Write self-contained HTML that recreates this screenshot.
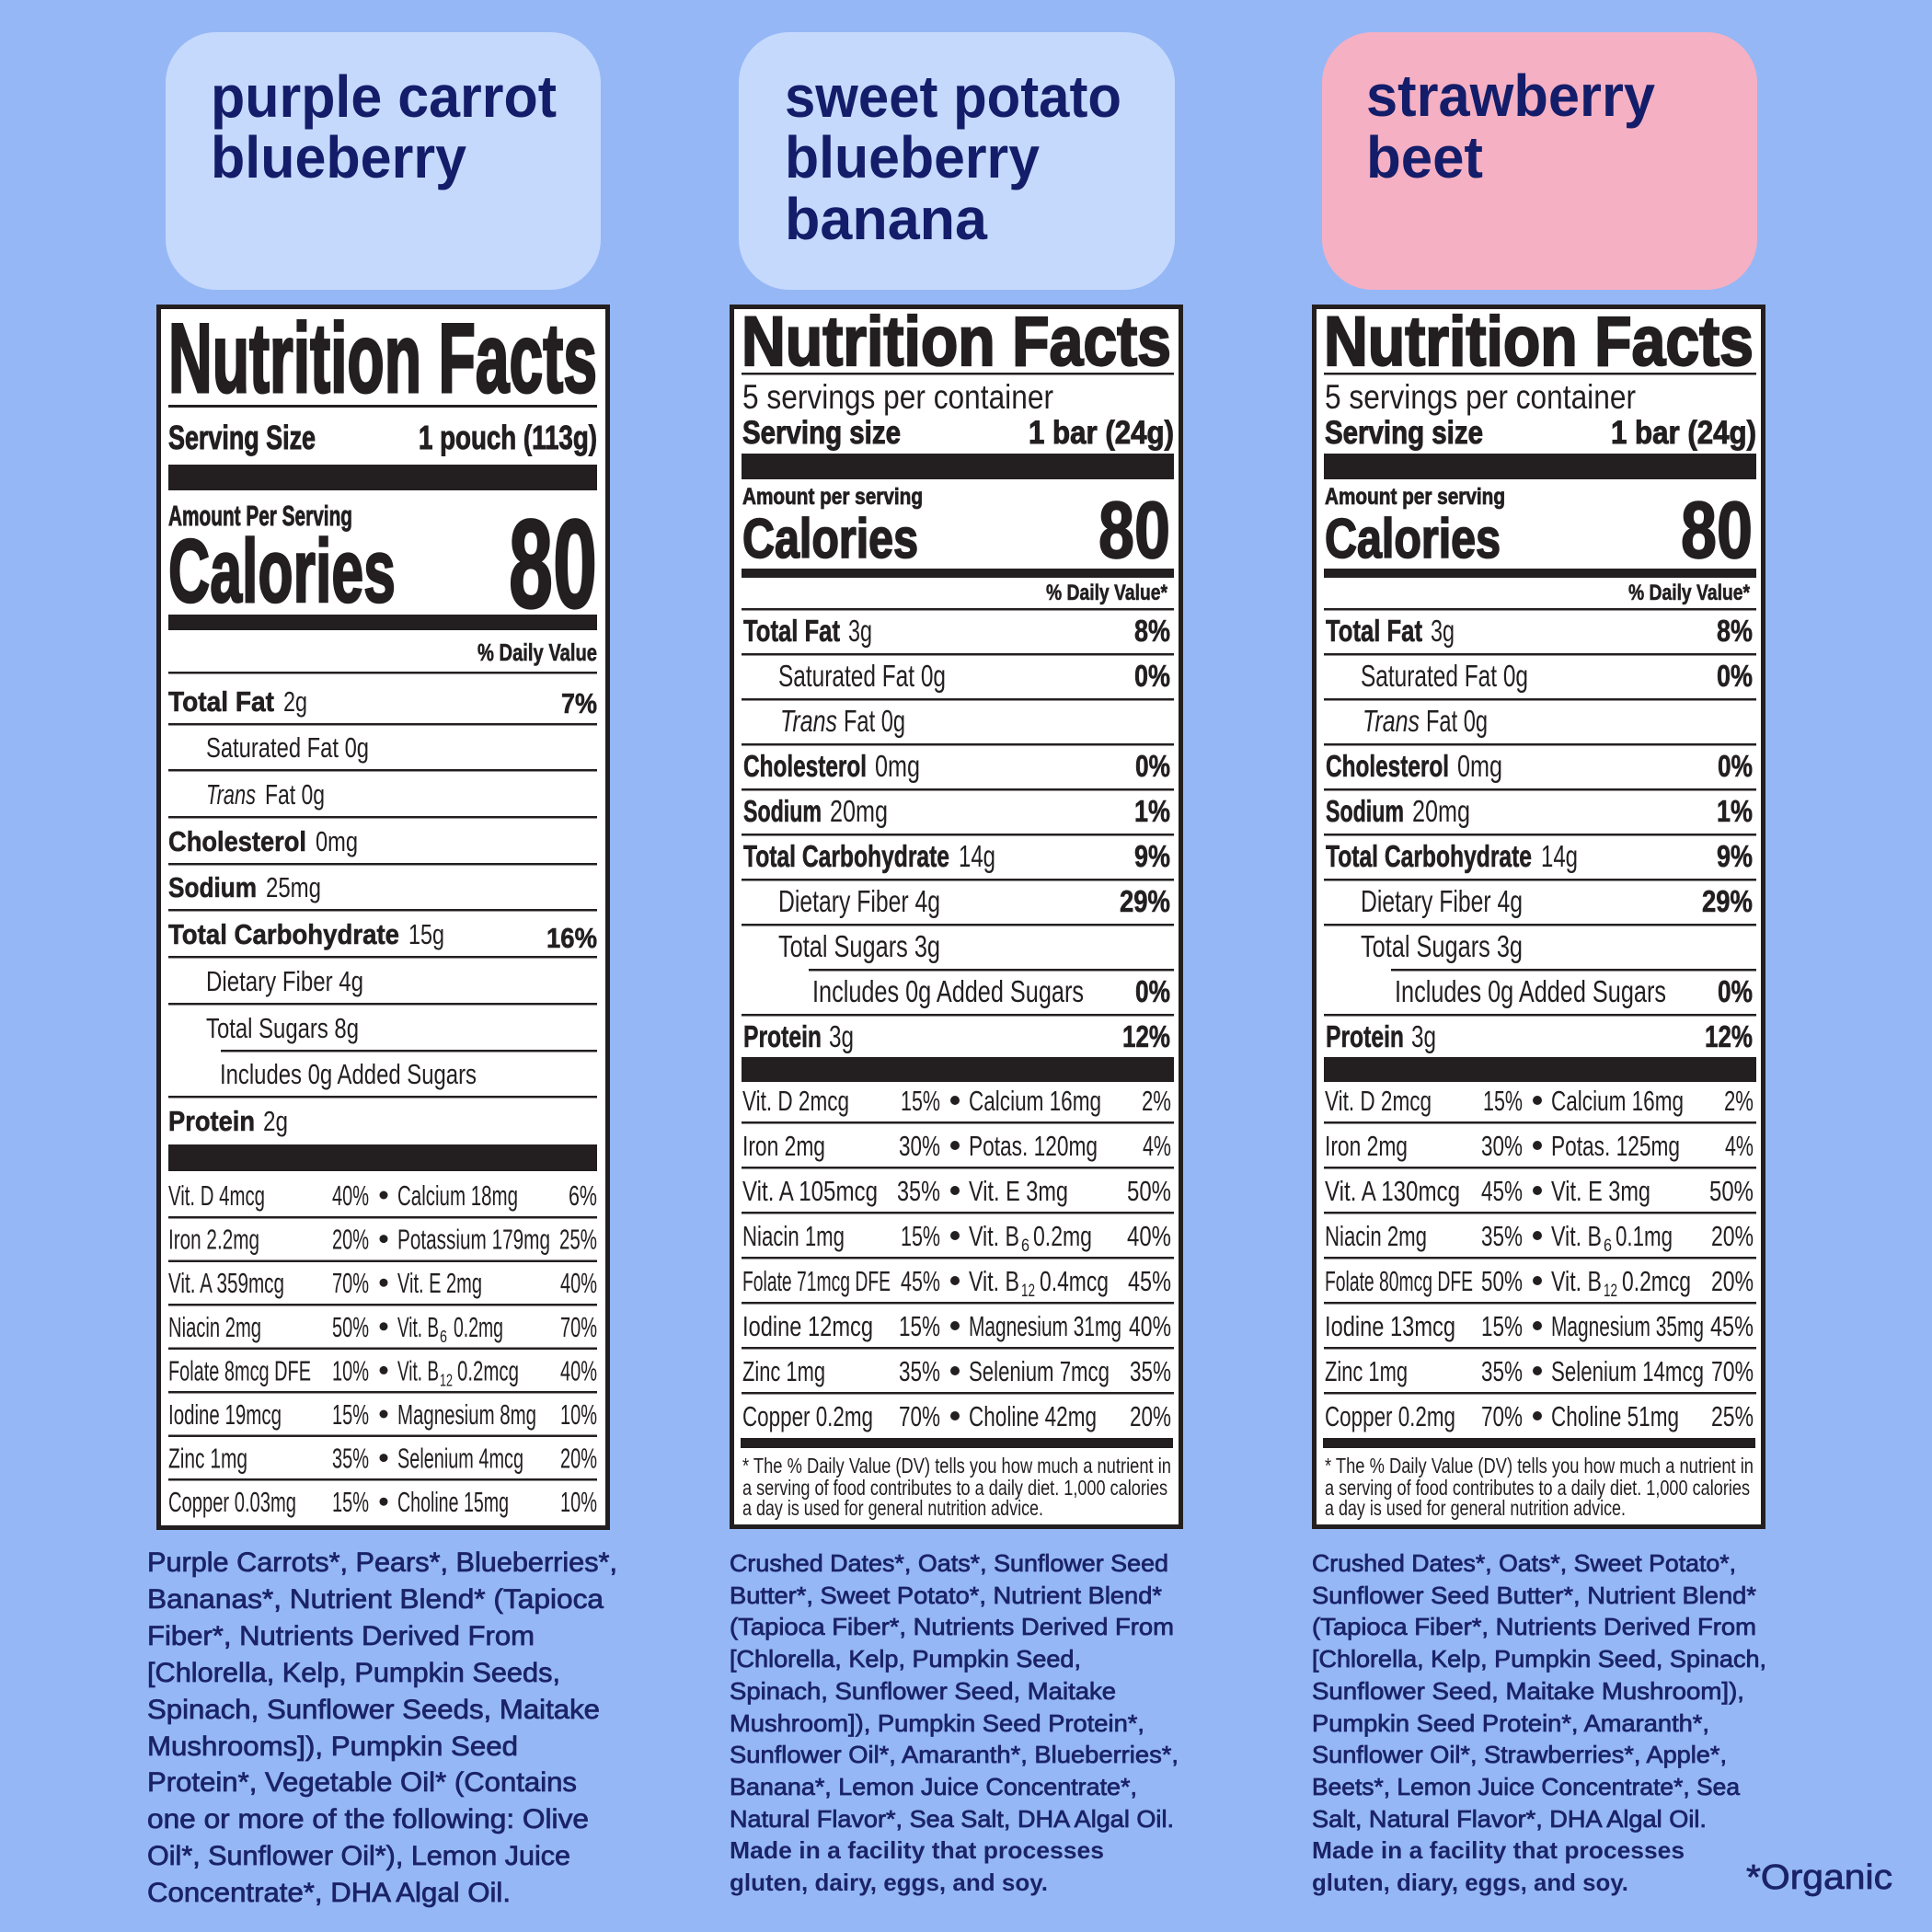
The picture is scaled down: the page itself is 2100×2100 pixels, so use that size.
<!DOCTYPE html>
<html><head><meta charset="utf-8"><style>
html,body{margin:0;padding:0;background:#95b7f5;}
svg{display:block;}
.B{font-family:"Liberation Sans",Arial,sans-serif;font-weight:700;fill:#231f20;stroke:#231f20;stroke-width:0.6;}
.R{font-family:"Liberation Sans",Arial,sans-serif;font-weight:400;fill:#231f20;}
.I{font-family:"Liberation Sans",Arial,sans-serif;font-weight:400;font-style:italic;fill:#231f20;}
.T{font-family:"Liberation Sans",Arial,sans-serif;font-weight:700;fill:#141d69;}
.G{font-family:"Liberation Sans",Arial,sans-serif;font-weight:400;fill:#1b2367;stroke:#1b2367;stroke-width:0.75;}
.GB{font-family:"Liberation Sans",Arial,sans-serif;font-weight:700;fill:#1b2367;}
</style></head><body>
<svg xmlns="http://www.w3.org/2000/svg" width="2100" height="2100" viewBox="0 0 2100 2100">
<rect x="0" y="0" width="2100" height="2100" fill="#95b7f5"/>

<!-- Pills -->
<rect x="180" y="35" width="473" height="280" rx="55" fill="#c5d9fd"/>
<rect x="803" y="35" width="474" height="280" rx="55" fill="#c5d9fd"/>
<rect x="1437" y="35" width="473" height="280" rx="55" fill="#f5b0c3"/>

<text class="T" x="229" y="127" font-size="64" textLength="376" lengthAdjust="spacingAndGlyphs">purple carrot</text>
<text class="T" x="229" y="193" font-size="64" textLength="278" lengthAdjust="spacingAndGlyphs">blueberry</text>

<text class="T" x="853" y="127" font-size="64" textLength="366" lengthAdjust="spacingAndGlyphs">sweet potato</text>
<text class="T" x="853" y="193" font-size="64" textLength="277" lengthAdjust="spacingAndGlyphs">blueberry</text>
<text class="T" x="853" y="260" font-size="64" textLength="220" lengthAdjust="spacingAndGlyphs">banana</text>

<text class="T" x="1485" y="126" font-size="64" textLength="314" lengthAdjust="spacingAndGlyphs">strawberry</text>
<text class="T" x="1485" y="193" font-size="64" textLength="127" lengthAdjust="spacingAndGlyphs">beet</text>

<!-- ================= LABEL 1 ================= -->
<rect x="172.5" y="333.5" width="488" height="1327" fill="#fff" stroke="#231f20" stroke-width="5"/>
<g fill="#231f20">
<text class="B" x="183" y="426" font-size="107" textLength="466" lengthAdjust="spacingAndGlyphs" style="stroke-width:3">Nutrition Facts</text>
<rect x="183" y="440" width="466" height="3"/>
<text class="B" x="183" y="488" font-size="36" textLength="160" lengthAdjust="spacingAndGlyphs" style="stroke-width:1">Serving Size</text>
<text class="B" x="649" y="488" font-size="36" text-anchor="end" textLength="194" lengthAdjust="spacingAndGlyphs" style="stroke-width:1">1 pouch (113g)</text>
<rect x="183" y="505" width="466" height="28"/>
<text class="B" x="183" y="571" font-size="31" textLength="200" lengthAdjust="spacingAndGlyphs" style="stroke-width:0.9">Amount Per Serving</text>
<text class="B" x="183" y="654" font-size="97" textLength="247" lengthAdjust="spacingAndGlyphs" style="stroke-width:2.5">Calories</text>
<text class="B" x="649" y="660" font-size="137" text-anchor="end" textLength="96" lengthAdjust="spacingAndGlyphs" style="stroke-width:2.5">80</text>
<rect x="183" y="668" width="466" height="17"/>
<text class="B" x="649" y="718" font-size="26" text-anchor="end" textLength="130" lengthAdjust="spacingAndGlyphs">% Daily Value</text>
<rect x="183" y="730" width="466" height="2.5"/>

<text class="B" x="183" y="773" font-size="31" textLength="115" lengthAdjust="spacingAndGlyphs">Total Fat</text>
<text class="R" x="308" y="773" font-size="31" textLength="26" lengthAdjust="spacingAndGlyphs">2g</text>
<text class="B" x="649" y="775" font-size="31" text-anchor="end" textLength="39" lengthAdjust="spacingAndGlyphs">7%</text>
<rect x="183" y="786" width="466" height="2.5"/>
<text class="R" x="224" y="823" font-size="31" textLength="177" lengthAdjust="spacingAndGlyphs">Saturated Fat 0g</text>
<rect x="183" y="836" width="466" height="2.5"/>
<text class="I" x="224" y="874" font-size="31" textLength="54" lengthAdjust="spacingAndGlyphs">Trans</text>
<text class="R" x="288" y="874" font-size="31" textLength="65" lengthAdjust="spacingAndGlyphs">Fat 0g</text>
<rect x="183" y="887" width="466" height="2.5"/>
<text class="B" x="183" y="925" font-size="31" textLength="150" lengthAdjust="spacingAndGlyphs">Cholesterol</text>
<text class="R" x="343" y="925" font-size="31" textLength="46" lengthAdjust="spacingAndGlyphs">0mg</text>
<rect x="183" y="938" width="466" height="2.5"/>
<text class="B" x="183" y="975" font-size="31" textLength="96" lengthAdjust="spacingAndGlyphs">Sodium</text>
<text class="R" x="289" y="975" font-size="31" textLength="60" lengthAdjust="spacingAndGlyphs">25mg</text>
<rect x="183" y="988" width="466" height="2.5"/>
<text class="B" x="183" y="1026" font-size="31" textLength="251" lengthAdjust="spacingAndGlyphs">Total Carbohydrate</text>
<text class="R" x="444" y="1026" font-size="31" textLength="39" lengthAdjust="spacingAndGlyphs">15g</text>
<text class="B" x="649" y="1030" font-size="31" text-anchor="end" textLength="55" lengthAdjust="spacingAndGlyphs">16%</text>
<rect x="183" y="1039" width="466" height="2.5"/>
<text class="R" x="224" y="1077" font-size="31" textLength="171" lengthAdjust="spacingAndGlyphs">Dietary Fiber 4g</text>
<rect x="183" y="1090" width="466" height="2.5"/>
<text class="R" x="224" y="1128" font-size="31" textLength="166" lengthAdjust="spacingAndGlyphs">Total Sugars 8g</text>
<rect x="240" y="1141" width="409" height="2.5"/>
<text class="R" x="239" y="1178" font-size="31" textLength="279" lengthAdjust="spacingAndGlyphs">Includes 0g Added Sugars</text>
<rect x="183" y="1191" width="466" height="2.5"/>
<text class="B" x="183" y="1229" font-size="31" textLength="94" lengthAdjust="spacingAndGlyphs">Protein</text>
<text class="R" x="286" y="1229" font-size="31" textLength="27" lengthAdjust="spacingAndGlyphs">2g</text>
<rect x="183" y="1244" width="466" height="29"/>

<!-- vit rows label 1 -->
<rect x="183" y="1322" width="466" height="2.5"/>
<rect x="183" y="1369.5" width="466" height="2.5"/>
<rect x="183" y="1417" width="466" height="2.5"/>
<rect x="183" y="1464.5" width="466" height="2.5"/>
<rect x="183" y="1512" width="466" height="2.5"/>
<rect x="183" y="1559.5" width="466" height="2.5"/>
<rect x="183" y="1607" width="466" height="2.5"/>

<circle cx="417" cy="1299" r="4.5"/><circle cx="417" cy="1346.6" r="4.5"/><circle cx="417" cy="1394.2" r="4.5"/><circle cx="417" cy="1441.8" r="4.5"/>
<circle cx="417" cy="1489.4" r="4.5"/><circle cx="417" cy="1537" r="4.5"/><circle cx="417" cy="1584.6" r="4.5"/><circle cx="417" cy="1632.2" r="4.5"/>

<text class="R" x="183" y="1310" font-size="31" textLength="105" lengthAdjust="spacingAndGlyphs">Vit. D 4mcg</text>
<text class="R" x="401" y="1310" font-size="31" text-anchor="end" textLength="40" lengthAdjust="spacingAndGlyphs">40%</text>
<text class="R" x="432" y="1310" font-size="31" textLength="131" lengthAdjust="spacingAndGlyphs">Calcium 18mg</text>
<text class="R" x="649" y="1310" font-size="31" text-anchor="end" textLength="31" lengthAdjust="spacingAndGlyphs">6%</text>

<text class="R" x="183" y="1357.6" font-size="31" textLength="99" lengthAdjust="spacingAndGlyphs">Iron 2.2mg</text>
<text class="R" x="401" y="1357.6" font-size="31" text-anchor="end" textLength="40" lengthAdjust="spacingAndGlyphs">20%</text>
<text class="R" x="432" y="1357.6" font-size="31" textLength="166" lengthAdjust="spacingAndGlyphs">Potassium 179mg</text>
<text class="R" x="649" y="1357.6" font-size="31" text-anchor="end" textLength="41" lengthAdjust="spacingAndGlyphs">25%</text>

<text class="R" x="183" y="1405.2" font-size="31" textLength="126" lengthAdjust="spacingAndGlyphs">Vit. A 359mcg</text>
<text class="R" x="401" y="1405.2" font-size="31" text-anchor="end" textLength="40" lengthAdjust="spacingAndGlyphs">70%</text>
<text class="R" x="432" y="1405.2" font-size="31" textLength="92" lengthAdjust="spacingAndGlyphs">Vit. E 2mg</text>
<text class="R" x="649" y="1405.2" font-size="31" text-anchor="end" textLength="40" lengthAdjust="spacingAndGlyphs">40%</text>

<text class="R" x="183" y="1452.8" font-size="31" textLength="101" lengthAdjust="spacingAndGlyphs">Niacin 2mg</text>
<text class="R" x="401" y="1452.8" font-size="31" text-anchor="end" textLength="40" lengthAdjust="spacingAndGlyphs">50%</text>
<text class="R" x="432" y="1452.8" font-size="31" textLength="45" lengthAdjust="spacingAndGlyphs">Vit. B</text>
<text class="R" x="478" y="1458.8" font-size="18" textLength="8" lengthAdjust="spacingAndGlyphs">6</text>
<text class="R" x="493" y="1452.8" font-size="31" textLength="54" lengthAdjust="spacingAndGlyphs">0.2mg</text>
<text class="R" x="649" y="1452.8" font-size="31" text-anchor="end" textLength="40" lengthAdjust="spacingAndGlyphs">70%</text>

<text class="R" x="183" y="1500.4" font-size="31" textLength="155" lengthAdjust="spacingAndGlyphs">Folate 8mcg DFE</text>
<text class="R" x="401" y="1500.4" font-size="31" text-anchor="end" textLength="40" lengthAdjust="spacingAndGlyphs">10%</text>
<text class="R" x="432" y="1500.4" font-size="31" textLength="45" lengthAdjust="spacingAndGlyphs">Vit. B</text>
<text class="R" x="478" y="1506.4" font-size="18" textLength="14" lengthAdjust="spacingAndGlyphs">12</text>
<text class="R" x="497" y="1500.4" font-size="31" textLength="67" lengthAdjust="spacingAndGlyphs">0.2mcg</text>
<text class="R" x="649" y="1500.4" font-size="31" text-anchor="end" textLength="40" lengthAdjust="spacingAndGlyphs">40%</text>

<text class="R" x="183" y="1548" font-size="31" textLength="123" lengthAdjust="spacingAndGlyphs">Iodine 19mcg</text>
<text class="R" x="401" y="1548" font-size="31" text-anchor="end" textLength="40" lengthAdjust="spacingAndGlyphs">15%</text>
<text class="R" x="432" y="1548" font-size="31" textLength="151" lengthAdjust="spacingAndGlyphs">Magnesium 8mg</text>
<text class="R" x="649" y="1548" font-size="31" text-anchor="end" textLength="40" lengthAdjust="spacingAndGlyphs">10%</text>

<text class="R" x="183" y="1595.6" font-size="31" textLength="86" lengthAdjust="spacingAndGlyphs">Zinc 1mg</text>
<text class="R" x="401" y="1595.6" font-size="31" text-anchor="end" textLength="40" lengthAdjust="spacingAndGlyphs">35%</text>
<text class="R" x="432" y="1595.6" font-size="31" textLength="137" lengthAdjust="spacingAndGlyphs">Selenium 4mcg</text>
<text class="R" x="649" y="1595.6" font-size="31" text-anchor="end" textLength="40" lengthAdjust="spacingAndGlyphs">20%</text>

<text class="R" x="183" y="1643.2" font-size="31" textLength="139" lengthAdjust="spacingAndGlyphs">Copper 0.03mg</text>
<text class="R" x="401" y="1643.2" font-size="31" text-anchor="end" textLength="40" lengthAdjust="spacingAndGlyphs">15%</text>
<text class="R" x="432" y="1643.2" font-size="31" textLength="121" lengthAdjust="spacingAndGlyphs">Choline 15mg</text>
<text class="R" x="649" y="1643.2" font-size="31" text-anchor="end" textLength="40" lengthAdjust="spacingAndGlyphs">10%</text>
</g>

<!-- ================= LABEL 2 ================= -->
<g fill="#231f20">
<rect x="795.5" y="333.5" width="488" height="1326" fill="#fff" stroke="#231f20" stroke-width="5"/>
<text class="B" x="806" y="397" font-size="76" textLength="467" lengthAdjust="spacingAndGlyphs" style="stroke-width:2.2">Nutrition Facts</text>
<rect x="806" y="405" width="470" height="2.5"/>
<text class="R" x="807" y="444" font-size="37" textLength="338" lengthAdjust="spacingAndGlyphs">5 servings per container</text>
<text class="B" x="807" y="482" font-size="35" textLength="172" lengthAdjust="spacingAndGlyphs" style="stroke-width:1">Serving size</text>
<text class="B" x="1276" y="482" font-size="35" text-anchor="end" textLength="158" lengthAdjust="spacingAndGlyphs" style="stroke-width:1">1 bar (24g)</text>
<rect x="806" y="493" width="470" height="28"/>
<text class="B" x="807" y="548" font-size="25" textLength="196" lengthAdjust="spacingAndGlyphs" style="stroke-width:0.8">Amount per serving</text>
<text class="B" x="807" y="606" font-size="60" textLength="191" lengthAdjust="spacingAndGlyphs" style="stroke-width:1.8">Calories</text>
<text class="B" x="1272" y="606" font-size="87" text-anchor="end" textLength="78" lengthAdjust="spacingAndGlyphs" style="stroke-width:1.8">80</text>
<rect x="806" y="618" width="470" height="10"/>
<text class="B" x="1269" y="652" font-size="24" text-anchor="end" textLength="132" lengthAdjust="spacingAndGlyphs">% Daily Value*</text>
<rect x="806" y="661" width="470" height="2.5"/>

<text class="B" x="808" y="697" font-size="33" textLength="105" lengthAdjust="spacingAndGlyphs">Total Fat</text>
<text class="R" x="922" y="697" font-size="33" textLength="26" lengthAdjust="spacingAndGlyphs">3g</text>
<text class="B" x="1272" y="697" font-size="33" text-anchor="end" textLength="39" lengthAdjust="spacingAndGlyphs">8%</text>
<rect x="806" y="710" width="470" height="2.5"/>
<text class="R" x="846" y="746" font-size="33" textLength="182" lengthAdjust="spacingAndGlyphs">Saturated Fat 0g</text>
<text class="B" x="1272" y="746" font-size="33" text-anchor="end" textLength="39" lengthAdjust="spacingAndGlyphs">0%</text>
<rect x="806" y="759" width="470" height="2.5"/>
<text class="I" x="848" y="795" font-size="33" textLength="62" lengthAdjust="spacingAndGlyphs">Trans</text>
<text class="R" x="917" y="795" font-size="33" textLength="67" lengthAdjust="spacingAndGlyphs">Fat 0g</text>
<rect x="806" y="808" width="470" height="2.5"/>
<text class="B" x="808" y="844" font-size="33" textLength="134" lengthAdjust="spacingAndGlyphs">Cholesterol</text>
<text class="R" x="951" y="844" font-size="33" textLength="49" lengthAdjust="spacingAndGlyphs">0mg</text>
<text class="B" x="1272" y="844" font-size="33" text-anchor="end" textLength="38" lengthAdjust="spacingAndGlyphs">0%</text>
<rect x="806" y="857" width="470" height="2.5"/>
<text class="B" x="808" y="893" font-size="33" textLength="85" lengthAdjust="spacingAndGlyphs">Sodium</text>
<text class="R" x="902" y="893" font-size="33" textLength="63" lengthAdjust="spacingAndGlyphs">20mg</text>
<text class="B" x="1272" y="893" font-size="33" text-anchor="end" textLength="39" lengthAdjust="spacingAndGlyphs">1%</text>
<rect x="806" y="906" width="470" height="2.5"/>
<text class="B" x="808" y="942" font-size="33" textLength="224" lengthAdjust="spacingAndGlyphs">Total Carbohydrate</text>
<text class="R" x="1042" y="942" font-size="33" textLength="40" lengthAdjust="spacingAndGlyphs">14g</text>
<text class="B" x="1272" y="942" font-size="33" text-anchor="end" textLength="39" lengthAdjust="spacingAndGlyphs">9%</text>
<rect x="806" y="955" width="470" height="2.5"/>
<text class="R" x="846" y="991" font-size="33" textLength="176" lengthAdjust="spacingAndGlyphs">Dietary Fiber 4g</text>
<text class="B" x="1272" y="991" font-size="33" text-anchor="end" textLength="55" lengthAdjust="spacingAndGlyphs">29%</text>
<rect x="806" y="1004" width="470" height="2.5"/>
<text class="R" x="846" y="1040" font-size="33" textLength="176" lengthAdjust="spacingAndGlyphs">Total Sugars 3g</text>
<rect x="879" y="1053" width="397" height="2.5"/>
<text class="R" x="883" y="1089" font-size="33" textLength="295" lengthAdjust="spacingAndGlyphs">Includes 0g Added Sugars</text>
<text class="B" x="1272" y="1089" font-size="33" text-anchor="end" textLength="38" lengthAdjust="spacingAndGlyphs">0%</text>
<rect x="806" y="1102" width="470" height="2.5"/>
<text class="B" x="808" y="1138" font-size="33" textLength="85" lengthAdjust="spacingAndGlyphs">Protein</text>
<text class="R" x="901" y="1138" font-size="33" textLength="27" lengthAdjust="spacingAndGlyphs">3g</text>
<text class="B" x="1272" y="1138" font-size="33" text-anchor="end" textLength="52" lengthAdjust="spacingAndGlyphs">12%</text>
<rect x="806" y="1149" width="470" height="27"/>

<rect x="806" y="1219" width="470" height="2.5"/>
<rect x="806" y="1268" width="470" height="2.5"/>
<rect x="806" y="1317" width="470" height="2.5"/>
<rect x="806" y="1366" width="470" height="2.5"/>
<rect x="806" y="1415" width="470" height="2.5"/>
<rect x="806" y="1464" width="470" height="2.5"/>
<rect x="806" y="1513" width="470" height="2.5"/>
<rect x="805" y="1563" width="470" height="11"/>

<circle cx="1038" cy="1196" r="5"/><circle cx="1038" cy="1245" r="5"/><circle cx="1038" cy="1294" r="5"/><circle cx="1038" cy="1343" r="5"/>
<circle cx="1038" cy="1392" r="5"/><circle cx="1038" cy="1441" r="5"/><circle cx="1038" cy="1490" r="5"/><circle cx="1038" cy="1539" r="5"/>

<text class="R" x="807" y="1207" font-size="31" textLength="116" lengthAdjust="spacingAndGlyphs">Vit. D 2mcg</text>
<text class="R" x="1022" y="1207" font-size="31" text-anchor="end" textLength="43" lengthAdjust="spacingAndGlyphs">15%</text>
<text class="R" x="1053" y="1207" font-size="31" textLength="144" lengthAdjust="spacingAndGlyphs">Calcium 16mg</text>
<text class="R" x="1273" y="1207" font-size="31" text-anchor="end" textLength="32" lengthAdjust="spacingAndGlyphs">2%</text>

<text class="R" x="807" y="1256" font-size="31" textLength="90" lengthAdjust="spacingAndGlyphs">Iron 2mg</text>
<text class="R" x="1022" y="1256" font-size="31" text-anchor="end" textLength="45" lengthAdjust="spacingAndGlyphs">30%</text>
<text class="R" x="1053" y="1256" font-size="31" textLength="140" lengthAdjust="spacingAndGlyphs">Potas. 120mg</text>
<text class="R" x="1273" y="1256" font-size="31" text-anchor="end" textLength="31" lengthAdjust="spacingAndGlyphs">4%</text>

<text class="R" x="807" y="1305" font-size="31" textLength="147" lengthAdjust="spacingAndGlyphs">Vit. A 105mcg</text>
<text class="R" x="1022" y="1305" font-size="31" text-anchor="end" textLength="47" lengthAdjust="spacingAndGlyphs">35%</text>
<text class="R" x="1053" y="1305" font-size="31" textLength="108" lengthAdjust="spacingAndGlyphs">Vit. E 3mg</text>
<text class="R" x="1273" y="1305" font-size="31" text-anchor="end" textLength="48" lengthAdjust="spacingAndGlyphs">50%</text>

<text class="R" x="807" y="1354" font-size="31" textLength="111" lengthAdjust="spacingAndGlyphs">Niacin 1mg</text>
<text class="R" x="1022" y="1354" font-size="31" text-anchor="end" textLength="43" lengthAdjust="spacingAndGlyphs">15%</text>
<text class="R" x="1053" y="1354" font-size="31" textLength="55" lengthAdjust="spacingAndGlyphs">Vit. B</text>
<text class="R" x="1110" y="1360" font-size="19" textLength="9" lengthAdjust="spacingAndGlyphs">6</text>
<text class="R" x="1123" y="1354" font-size="31" textLength="64" lengthAdjust="spacingAndGlyphs">0.2mg</text>
<text class="R" x="1273" y="1354" font-size="31" text-anchor="end" textLength="48" lengthAdjust="spacingAndGlyphs">40%</text>

<text class="R" x="807" y="1403" font-size="31" textLength="161" lengthAdjust="spacingAndGlyphs">Folate 71mcg DFE</text>
<text class="R" x="1022" y="1403" font-size="31" text-anchor="end" textLength="43" lengthAdjust="spacingAndGlyphs">45%</text>
<text class="R" x="1053" y="1403" font-size="31" textLength="55" lengthAdjust="spacingAndGlyphs">Vit. B</text>
<text class="R" x="1110" y="1409" font-size="19" textLength="15" lengthAdjust="spacingAndGlyphs">12</text>
<text class="R" x="1130" y="1403" font-size="31" textLength="75" lengthAdjust="spacingAndGlyphs">0.4mcg</text>
<text class="R" x="1273" y="1403" font-size="31" text-anchor="end" textLength="47" lengthAdjust="spacingAndGlyphs">45%</text>

<text class="R" x="807" y="1452" font-size="31" textLength="142" lengthAdjust="spacingAndGlyphs">Iodine 12mcg</text>
<text class="R" x="1022" y="1452" font-size="31" text-anchor="end" textLength="45" lengthAdjust="spacingAndGlyphs">15%</text>
<text class="R" x="1053" y="1452" font-size="31" textLength="166" lengthAdjust="spacingAndGlyphs">Magnesium 31mg</text>
<text class="R" x="1273" y="1452" font-size="31" text-anchor="end" textLength="46" lengthAdjust="spacingAndGlyphs">40%</text>

<text class="R" x="807" y="1501" font-size="31" textLength="90" lengthAdjust="spacingAndGlyphs">Zinc 1mg</text>
<text class="R" x="1022" y="1501" font-size="31" text-anchor="end" textLength="45" lengthAdjust="spacingAndGlyphs">35%</text>
<text class="R" x="1053" y="1501" font-size="31" textLength="153" lengthAdjust="spacingAndGlyphs">Selenium 7mcg</text>
<text class="R" x="1273" y="1501" font-size="31" text-anchor="end" textLength="45" lengthAdjust="spacingAndGlyphs">35%</text>

<text class="R" x="807" y="1550" font-size="31" textLength="142" lengthAdjust="spacingAndGlyphs">Copper 0.2mg</text>
<text class="R" x="1022" y="1550" font-size="31" text-anchor="end" textLength="45" lengthAdjust="spacingAndGlyphs">70%</text>
<text class="R" x="1053" y="1550" font-size="31" textLength="139" lengthAdjust="spacingAndGlyphs">Choline 42mg</text>
<text class="R" x="1273" y="1550" font-size="31" text-anchor="end" textLength="45" lengthAdjust="spacingAndGlyphs">20%</text>

<text class="R" x="807" y="1601" font-size="23" textLength="466" lengthAdjust="spacingAndGlyphs">* The % Daily Value (DV) tells you how much a nutrient in</text>
<text class="R" x="807" y="1625" font-size="23" textLength="462" lengthAdjust="spacingAndGlyphs">a serving of food contributes to a daily diet. 1,000 calories</text>
<text class="R" x="807" y="1647" font-size="23" textLength="327" lengthAdjust="spacingAndGlyphs">a day is used for general nutrition advice.</text>
</g>

<!-- ================= LABEL 3 ================= -->
<g fill="#231f20" transform="translate(633 0)">
<rect x="795.5" y="333.5" width="488" height="1326" fill="#fff" stroke="#231f20" stroke-width="5"/>
<text class="B" x="806" y="397" font-size="76" textLength="467" lengthAdjust="spacingAndGlyphs" style="stroke-width:2.2">Nutrition Facts</text>
<rect x="806" y="405" width="470" height="2.5"/>
<text class="R" x="807" y="444" font-size="37" textLength="338" lengthAdjust="spacingAndGlyphs">5 servings per container</text>
<text class="B" x="807" y="482" font-size="35" textLength="172" lengthAdjust="spacingAndGlyphs" style="stroke-width:1">Serving size</text>
<text class="B" x="1276" y="482" font-size="35" text-anchor="end" textLength="158" lengthAdjust="spacingAndGlyphs" style="stroke-width:1">1 bar (24g)</text>
<rect x="806" y="493" width="470" height="28"/>
<text class="B" x="807" y="548" font-size="25" textLength="196" lengthAdjust="spacingAndGlyphs" style="stroke-width:0.8">Amount per serving</text>
<text class="B" x="807" y="606" font-size="60" textLength="191" lengthAdjust="spacingAndGlyphs" style="stroke-width:1.8">Calories</text>
<text class="B" x="1272" y="606" font-size="87" text-anchor="end" textLength="78" lengthAdjust="spacingAndGlyphs" style="stroke-width:1.8">80</text>
<rect x="806" y="618" width="470" height="10"/>
<text class="B" x="1269" y="652" font-size="24" text-anchor="end" textLength="132" lengthAdjust="spacingAndGlyphs">% Daily Value*</text>
<rect x="806" y="661" width="470" height="2.5"/>

<text class="B" x="808" y="697" font-size="33" textLength="105" lengthAdjust="spacingAndGlyphs">Total Fat</text>
<text class="R" x="922" y="697" font-size="33" textLength="26" lengthAdjust="spacingAndGlyphs">3g</text>
<text class="B" x="1272" y="697" font-size="33" text-anchor="end" textLength="39" lengthAdjust="spacingAndGlyphs">8%</text>
<rect x="806" y="710" width="470" height="2.5"/>
<text class="R" x="846" y="746" font-size="33" textLength="182" lengthAdjust="spacingAndGlyphs">Saturated Fat 0g</text>
<text class="B" x="1272" y="746" font-size="33" text-anchor="end" textLength="39" lengthAdjust="spacingAndGlyphs">0%</text>
<rect x="806" y="759" width="470" height="2.5"/>
<text class="I" x="848" y="795" font-size="33" textLength="62" lengthAdjust="spacingAndGlyphs">Trans</text>
<text class="R" x="917" y="795" font-size="33" textLength="67" lengthAdjust="spacingAndGlyphs">Fat 0g</text>
<rect x="806" y="808" width="470" height="2.5"/>
<text class="B" x="808" y="844" font-size="33" textLength="134" lengthAdjust="spacingAndGlyphs">Cholesterol</text>
<text class="R" x="951" y="844" font-size="33" textLength="49" lengthAdjust="spacingAndGlyphs">0mg</text>
<text class="B" x="1272" y="844" font-size="33" text-anchor="end" textLength="38" lengthAdjust="spacingAndGlyphs">0%</text>
<rect x="806" y="857" width="470" height="2.5"/>
<text class="B" x="808" y="893" font-size="33" textLength="85" lengthAdjust="spacingAndGlyphs">Sodium</text>
<text class="R" x="902" y="893" font-size="33" textLength="63" lengthAdjust="spacingAndGlyphs">20mg</text>
<text class="B" x="1272" y="893" font-size="33" text-anchor="end" textLength="39" lengthAdjust="spacingAndGlyphs">1%</text>
<rect x="806" y="906" width="470" height="2.5"/>
<text class="B" x="808" y="942" font-size="33" textLength="224" lengthAdjust="spacingAndGlyphs">Total Carbohydrate</text>
<text class="R" x="1042" y="942" font-size="33" textLength="40" lengthAdjust="spacingAndGlyphs">14g</text>
<text class="B" x="1272" y="942" font-size="33" text-anchor="end" textLength="39" lengthAdjust="spacingAndGlyphs">9%</text>
<rect x="806" y="955" width="470" height="2.5"/>
<text class="R" x="846" y="991" font-size="33" textLength="176" lengthAdjust="spacingAndGlyphs">Dietary Fiber 4g</text>
<text class="B" x="1272" y="991" font-size="33" text-anchor="end" textLength="55" lengthAdjust="spacingAndGlyphs">29%</text>
<rect x="806" y="1004" width="470" height="2.5"/>
<text class="R" x="846" y="1040" font-size="33" textLength="176" lengthAdjust="spacingAndGlyphs">Total Sugars 3g</text>
<rect x="879" y="1053" width="397" height="2.5"/>
<text class="R" x="883" y="1089" font-size="33" textLength="295" lengthAdjust="spacingAndGlyphs">Includes 0g Added Sugars</text>
<text class="B" x="1272" y="1089" font-size="33" text-anchor="end" textLength="38" lengthAdjust="spacingAndGlyphs">0%</text>
<rect x="806" y="1102" width="470" height="2.5"/>
<text class="B" x="808" y="1138" font-size="33" textLength="85" lengthAdjust="spacingAndGlyphs">Protein</text>
<text class="R" x="901" y="1138" font-size="33" textLength="27" lengthAdjust="spacingAndGlyphs">3g</text>
<text class="B" x="1272" y="1138" font-size="33" text-anchor="end" textLength="52" lengthAdjust="spacingAndGlyphs">12%</text>
<rect x="806" y="1149" width="470" height="27"/>

<rect x="806" y="1219" width="470" height="2.5"/>
<rect x="806" y="1268" width="470" height="2.5"/>
<rect x="806" y="1317" width="470" height="2.5"/>
<rect x="806" y="1366" width="470" height="2.5"/>
<rect x="806" y="1415" width="470" height="2.5"/>
<rect x="806" y="1464" width="470" height="2.5"/>
<rect x="806" y="1513" width="470" height="2.5"/>
<rect x="805" y="1563" width="470" height="11"/>

<circle cx="1038" cy="1196" r="5"/><circle cx="1038" cy="1245" r="5"/><circle cx="1038" cy="1294" r="5"/><circle cx="1038" cy="1343" r="5"/>
<circle cx="1038" cy="1392" r="5"/><circle cx="1038" cy="1441" r="5"/><circle cx="1038" cy="1490" r="5"/><circle cx="1038" cy="1539" r="5"/>

<text class="R" x="807" y="1207" font-size="31" textLength="116" lengthAdjust="spacingAndGlyphs">Vit. D 2mcg</text>
<text class="R" x="1022" y="1207" font-size="31" text-anchor="end" textLength="43" lengthAdjust="spacingAndGlyphs">15%</text>
<text class="R" x="1053" y="1207" font-size="31" textLength="144" lengthAdjust="spacingAndGlyphs">Calcium 16mg</text>
<text class="R" x="1273" y="1207" font-size="31" text-anchor="end" textLength="32" lengthAdjust="spacingAndGlyphs">2%</text>

<text class="R" x="807" y="1256" font-size="31" textLength="90" lengthAdjust="spacingAndGlyphs">Iron 2mg</text>
<text class="R" x="1022" y="1256" font-size="31" text-anchor="end" textLength="45" lengthAdjust="spacingAndGlyphs">30%</text>
<text class="R" x="1053" y="1256" font-size="31" textLength="140" lengthAdjust="spacingAndGlyphs">Potas. 125mg</text>
<text class="R" x="1273" y="1256" font-size="31" text-anchor="end" textLength="31" lengthAdjust="spacingAndGlyphs">4%</text>

<text class="R" x="807" y="1305" font-size="31" textLength="147" lengthAdjust="spacingAndGlyphs">Vit. A 130mcg</text>
<text class="R" x="1022" y="1305" font-size="31" text-anchor="end" textLength="45" lengthAdjust="spacingAndGlyphs">45%</text>
<text class="R" x="1053" y="1305" font-size="31" textLength="108" lengthAdjust="spacingAndGlyphs">Vit. E 3mg</text>
<text class="R" x="1273" y="1305" font-size="31" text-anchor="end" textLength="48" lengthAdjust="spacingAndGlyphs">50%</text>

<text class="R" x="807" y="1354" font-size="31" textLength="111" lengthAdjust="spacingAndGlyphs">Niacin 2mg</text>
<text class="R" x="1022" y="1354" font-size="31" text-anchor="end" textLength="45" lengthAdjust="spacingAndGlyphs">35%</text>
<text class="R" x="1053" y="1354" font-size="31" textLength="55" lengthAdjust="spacingAndGlyphs">Vit. B</text>
<text class="R" x="1110" y="1360" font-size="19" textLength="9" lengthAdjust="spacingAndGlyphs">6</text>
<text class="R" x="1123" y="1354" font-size="31" textLength="62" lengthAdjust="spacingAndGlyphs">0.1mg</text>
<text class="R" x="1273" y="1354" font-size="31" text-anchor="end" textLength="46" lengthAdjust="spacingAndGlyphs">20%</text>

<text class="R" x="807" y="1403" font-size="31" textLength="161" lengthAdjust="spacingAndGlyphs">Folate 80mcg DFE</text>
<text class="R" x="1022" y="1403" font-size="31" text-anchor="end" textLength="45" lengthAdjust="spacingAndGlyphs">50%</text>
<text class="R" x="1053" y="1403" font-size="31" textLength="55" lengthAdjust="spacingAndGlyphs">Vit. B</text>
<text class="R" x="1110" y="1409" font-size="19" textLength="15" lengthAdjust="spacingAndGlyphs">12</text>
<text class="R" x="1130" y="1403" font-size="31" textLength="75" lengthAdjust="spacingAndGlyphs">0.2mcg</text>
<text class="R" x="1273" y="1403" font-size="31" text-anchor="end" textLength="46" lengthAdjust="spacingAndGlyphs">20%</text>

<text class="R" x="807" y="1452" font-size="31" textLength="142" lengthAdjust="spacingAndGlyphs">Iodine 13mcg</text>
<text class="R" x="1022" y="1452" font-size="31" text-anchor="end" textLength="45" lengthAdjust="spacingAndGlyphs">15%</text>
<text class="R" x="1053" y="1452" font-size="31" textLength="166" lengthAdjust="spacingAndGlyphs">Magnesium 35mg</text>
<text class="R" x="1273" y="1452" font-size="31" text-anchor="end" textLength="47" lengthAdjust="spacingAndGlyphs">45%</text>

<text class="R" x="807" y="1501" font-size="31" textLength="90" lengthAdjust="spacingAndGlyphs">Zinc 1mg</text>
<text class="R" x="1022" y="1501" font-size="31" text-anchor="end" textLength="45" lengthAdjust="spacingAndGlyphs">35%</text>
<text class="R" x="1053" y="1501" font-size="31" textLength="166" lengthAdjust="spacingAndGlyphs">Selenium 14mcg</text>
<text class="R" x="1273" y="1501" font-size="31" text-anchor="end" textLength="46" lengthAdjust="spacingAndGlyphs">70%</text>

<text class="R" x="807" y="1550" font-size="31" textLength="142" lengthAdjust="spacingAndGlyphs">Copper 0.2mg</text>
<text class="R" x="1022" y="1550" font-size="31" text-anchor="end" textLength="45" lengthAdjust="spacingAndGlyphs">70%</text>
<text class="R" x="1053" y="1550" font-size="31" textLength="139" lengthAdjust="spacingAndGlyphs">Choline 51mg</text>
<text class="R" x="1273" y="1550" font-size="31" text-anchor="end" textLength="46" lengthAdjust="spacingAndGlyphs">25%</text>

<text class="R" x="807" y="1601" font-size="23" textLength="466" lengthAdjust="spacingAndGlyphs">* The % Daily Value (DV) tells you how much a nutrient in</text>
<text class="R" x="807" y="1625" font-size="23" textLength="462" lengthAdjust="spacingAndGlyphs">a serving of food contributes to a daily diet. 1,000 calories</text>
<text class="R" x="807" y="1647" font-size="23" textLength="327" lengthAdjust="spacingAndGlyphs">a day is used for general nutrition advice.</text>
</g>

<!-- ================= INGREDIENTS ================= -->
<g font-size="29.5">
<text class="G" x="160" y="1708" textLength="511" lengthAdjust="spacingAndGlyphs">Purple Carrots*, Pears*, Blueberries*,</text>
<text class="G" x="160" y="1748" textLength="496" lengthAdjust="spacingAndGlyphs">Bananas*, Nutrient Blend* (Tapioca</text>
<text class="G" x="160" y="1788" textLength="421" lengthAdjust="spacingAndGlyphs">Fiber*, Nutrients Derived From</text>
<text class="G" x="160" y="1828" textLength="449" lengthAdjust="spacingAndGlyphs">[Chlorella, Kelp, Pumpkin Seeds,</text>
<text class="G" x="160" y="1868" textLength="492" lengthAdjust="spacingAndGlyphs">Spinach, Sunflower Seeds, Maitake</text>
<text class="G" x="160" y="1908" textLength="403" lengthAdjust="spacingAndGlyphs">Mushrooms]), Pumpkin Seed</text>
<text class="G" x="160" y="1947" textLength="467" lengthAdjust="spacingAndGlyphs">Protein*, Vegetable Oil* (Contains</text>
<text class="G" x="160" y="1987" textLength="480" lengthAdjust="spacingAndGlyphs">one or more of the following: Olive</text>
<text class="G" x="160" y="2027" textLength="460" lengthAdjust="spacingAndGlyphs">Oil*, Sunflower Oil*), Lemon Juice</text>
<text class="G" x="160" y="2067" textLength="395" lengthAdjust="spacingAndGlyphs">Concentrate*, DHA Algal Oil.</text>
</g>

<g font-size="26">
<text class="G" x="793" y="1708" textLength="477" lengthAdjust="spacingAndGlyphs">Crushed Dates*, Oats*, Sunflower Seed</text>
<text class="G" x="793" y="1743" textLength="470" lengthAdjust="spacingAndGlyphs">Butter*, Sweet Potato*, Nutrient Blend*</text>
<text class="G" x="793" y="1777" textLength="483" lengthAdjust="spacingAndGlyphs">(Tapioca Fiber*, Nutrients Derived From</text>
<text class="G" x="793" y="1812" textLength="382" lengthAdjust="spacingAndGlyphs">[Chlorella, Kelp, Pumpkin Seed,</text>
<text class="G" x="793" y="1847" textLength="420" lengthAdjust="spacingAndGlyphs">Spinach, Sunflower Seed, Maitake</text>
<text class="G" x="793" y="1882" textLength="451" lengthAdjust="spacingAndGlyphs">Mushroom]), Pumpkin Seed Protein*,</text>
<text class="G" x="793" y="1916" textLength="488" lengthAdjust="spacingAndGlyphs">Sunflower Oil*, Amaranth*, Blueberries*,</text>
<text class="G" x="793" y="1951" textLength="443" lengthAdjust="spacingAndGlyphs">Banana*, Lemon Juice Concentrate*,</text>
<text class="G" x="793" y="1986" textLength="483" lengthAdjust="spacingAndGlyphs">Natural Flavor*, Sea Salt, DHA Algal Oil.</text>
<text class="GB" x="793" y="2020" textLength="407" lengthAdjust="spacingAndGlyphs">Made in a facility that processes</text>
<text class="GB" x="793" y="2055" textLength="346" lengthAdjust="spacingAndGlyphs">gluten, dairy, eggs, and soy.</text>
</g>

<g font-size="26">
<text class="G" x="1426" y="1708" textLength="461" lengthAdjust="spacingAndGlyphs">Crushed Dates*, Oats*, Sweet Potato*,</text>
<text class="G" x="1426" y="1743" textLength="483" lengthAdjust="spacingAndGlyphs">Sunflower Seed Butter*, Nutrient Blend*</text>
<text class="G" x="1426" y="1777" textLength="483" lengthAdjust="spacingAndGlyphs">(Tapioca Fiber*, Nutrients Derived From</text>
<text class="G" x="1426" y="1812" textLength="494" lengthAdjust="spacingAndGlyphs">[Chlorella, Kelp, Pumpkin Seed, Spinach,</text>
<text class="G" x="1426" y="1847" textLength="470" lengthAdjust="spacingAndGlyphs">Sunflower Seed, Maitake Mushroom]),</text>
<text class="G" x="1426" y="1882" textLength="432" lengthAdjust="spacingAndGlyphs">Pumpkin Seed Protein*, Amaranth*,</text>
<text class="G" x="1426" y="1916" textLength="451" lengthAdjust="spacingAndGlyphs">Sunflower Oil*, Strawberries*, Apple*,</text>
<text class="G" x="1426" y="1951" textLength="465" lengthAdjust="spacingAndGlyphs">Beets*, Lemon Juice Concentrate*, Sea</text>
<text class="G" x="1426" y="1986" textLength="429" lengthAdjust="spacingAndGlyphs">Salt, Natural Flavor*, DHA Algal Oil.</text>
<text class="GB" x="1426" y="2020" textLength="405" lengthAdjust="spacingAndGlyphs">Made in a facility that processes</text>
<text class="GB" x="1426" y="2055" textLength="344" lengthAdjust="spacingAndGlyphs">gluten, diary, eggs, and soy.</text>
</g>

<text class="G" x="1898" y="2053" font-size="38" textLength="159" lengthAdjust="spacingAndGlyphs">*Organic</text>
</svg>
</body></html>
